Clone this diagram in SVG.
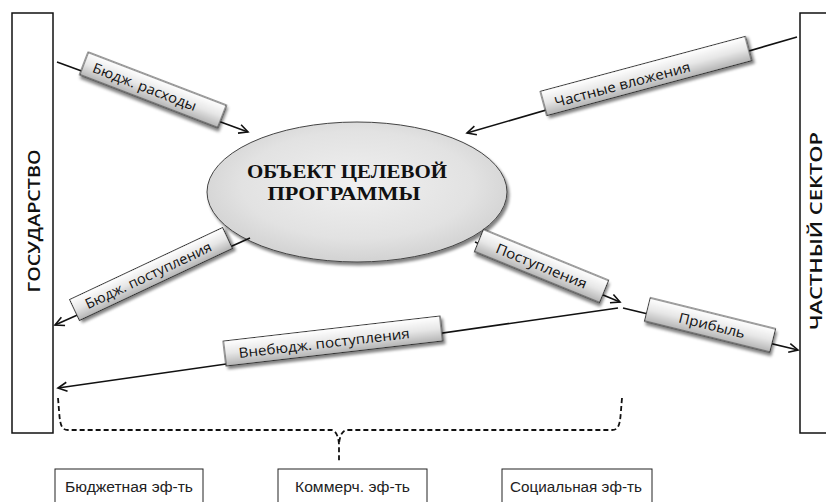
<svg xmlns="http://www.w3.org/2000/svg" width="826" height="502" viewBox="0 0 826 502">
<style>
.side{fill:#fff;stroke:#111;stroke-width:1.5}
.vt{font-family:"Open Sans","Liberation Sans",sans-serif;font-size:17px;font-weight:600;fill:#111;text-anchor:middle}
.lbl rect{fill:url(#lg);stroke:#333;stroke-width:1}
.lbl text{font-family:"Open Sans","Liberation Sans",sans-serif;font-size:14px;fill:#111;text-anchor:middle}
.conn{stroke:#111;stroke-width:1.6;fill:none;marker-end:url(#ah)}
.brace{stroke:#111;stroke-width:1.8;fill:none;stroke-dasharray:5 3}
.eb rect{fill:#fff;stroke:#222;stroke-width:1}
.eb text{font-family:"Liberation Sans","Arial",sans-serif;font-size:14px;fill:#222;text-anchor:middle}
.et{font-family:"Liberation Serif","Times New Roman",serif;font-size:18px;font-weight:bold;fill:#111;text-anchor:middle}
</style>
<defs>
<linearGradient id="lg" x1="0" y1="0" x2="0" y2="1">
<stop offset="0" stop-color="#ffffff"/>
<stop offset="0.5" stop-color="#e6e6e6"/>
<stop offset="1" stop-color="#b4b4b4"/>
</linearGradient>
<radialGradient id="eg" cx="0.5" cy="0.45" r="0.55">
<stop offset="0" stop-color="#f0f0f0"/>
<stop offset="0.7" stop-color="#e2e2e2"/>
<stop offset="1" stop-color="#d2d2d2"/>
</radialGradient>
<filter id="sh" x="-20%" y="-40%" width="140%" height="190%">
<feGaussianBlur in="SourceAlpha" stdDeviation="1.5"/>
<feOffset dx="2" dy="2.5" result="o"/>
<feComponentTransfer><feFuncA type="linear" slope="0.5"/></feComponentTransfer>
<feMerge><feMergeNode/><feMergeNode in="SourceGraphic"/></feMerge>
</filter>
<marker id="ah" markerWidth="12" markerHeight="12" refX="10" refY="5" orient="auto" markerUnits="userSpaceOnUse" viewBox="0 0 12 10">
<path d="M1,0.5 L10,5 L1,9.5" fill="none" stroke="#111" stroke-width="1.6"/>
</marker>
</defs>
<rect width="826" height="502" fill="#fff"/>

<g id="gos">
<rect class="side" x="12" y="13" width="41" height="420"/>
<text class="vt" transform="translate(40,221) rotate(-90)" textLength="143" lengthAdjust="spacingAndGlyphs">ГОСУДАРСТВО</text>
</g>
<g id="chast">
<rect class="side" x="800" y="13" width="40" height="420"/>
<text class="vt" transform="translate(822,231) rotate(-90)" textLength="198" lengthAdjust="spacingAndGlyphs">ЧАСТНЫЙ СЕКТОР</text>
</g>

<g id="obj">
<ellipse cx="357" cy="192" rx="150" ry="70" fill="url(#eg)" stroke="#444" stroke-width="1" filter="url(#sh)"/>
<text class="et" x="347" y="178" textLength="200" lengthAdjust="spacingAndGlyphs">ОБЪЕКТ ЦЕЛЕВОЙ</text>
<text class="et" x="344" y="200" textLength="153" lengthAdjust="spacingAndGlyphs">ПРОГРАММЫ</text>
</g>

<g id="connectors">
<line class="conn" x1="57" y1="62" x2="248" y2="132"/>
<line class="conn" x1="797" y1="37" x2="467" y2="133"/>
<line class="conn" x1="250" y1="238" x2="55" y2="325"/>
<line class="conn" x1="618" y1="308" x2="58" y2="388"/>
<line class="conn" x1="475" y1="242" x2="620" y2="302"/>
<line class="conn" x1="623" y1="308" x2="798" y2="350"/>
<path class="brace" d="M58,398 C60,420 59,430 68,430 L332,430 Q338,432 339,444 L339,463"/>
<path class="brace" d="M622,398 C620,420 621,430 612,430 L346,430 Q340,432 339,444"/>
</g>

<g id="l-rashody" class="lbl" transform="translate(153,90) rotate(21)">
<rect x="-74" y="-12" width="148" height="24" filter="url(#sh)"/>
<text x="-9" y="5" textLength="110" lengthAdjust="spacingAndGlyphs">Бюдж. расходы</text>
</g>
<g id="l-vlozh" class="lbl" transform="translate(646,76) rotate(-15)">
<rect x="-106" y="-12.5" width="212" height="25" filter="url(#sh)"/>
<text x="-25" y="7" textLength="140" lengthAdjust="spacingAndGlyphs">Частные вложения</text>
</g>
<g id="l-bpost" class="lbl" transform="translate(151,274) rotate(-25.2)">
<rect x="-84.5" y="-11.5" width="169" height="23" filter="url(#sh)"/>
<text x="-3" y="5" textLength="138" lengthAdjust="spacingAndGlyphs">Бюдж. поступления</text>
</g>
<g id="l-vnebud" class="lbl" transform="translate(333,341) rotate(-6.6)">
<rect x="-109" y="-12.5" width="218" height="25" filter="url(#sh)"/>
<text x="-9" y="6" textLength="172" lengthAdjust="spacingAndGlyphs">Внебюдж. поступления</text>
</g>
<g id="l-post" class="lbl" transform="translate(541.5,266) rotate(22.2)">
<rect x="-67.5" y="-12" width="135" height="24" filter="url(#sh)"/>
<text x="0" y="5" textLength="97" lengthAdjust="spacingAndGlyphs">Поступления</text>
</g>
<g id="l-prib" class="lbl" transform="translate(710,325) rotate(13.9)">
<rect x="-64.5" y="-12" width="129" height="24" filter="url(#sh)"/>
<text x="2" y="5" textLength="68" lengthAdjust="spacingAndGlyphs">Прибыль</text>
</g>

<g id="e-bud" class="eb">
<rect x="55" y="469" width="148" height="50"/>
<text x="129" y="492" textLength="128" lengthAdjust="spacingAndGlyphs">Бюджетная эф-ть</text>
</g>
<g id="e-kom" class="eb">
<rect x="278" y="469" width="149" height="50"/>
<text x="352.5" y="492" textLength="115" lengthAdjust="spacingAndGlyphs">Коммерч. эф-ть</text>
</g>
<g id="e-soc" class="eb">
<rect x="502" y="469" width="150" height="50"/>
<text x="576" y="492" textLength="132" lengthAdjust="spacingAndGlyphs">Социальная эф-ть</text>
</g>
</svg>
